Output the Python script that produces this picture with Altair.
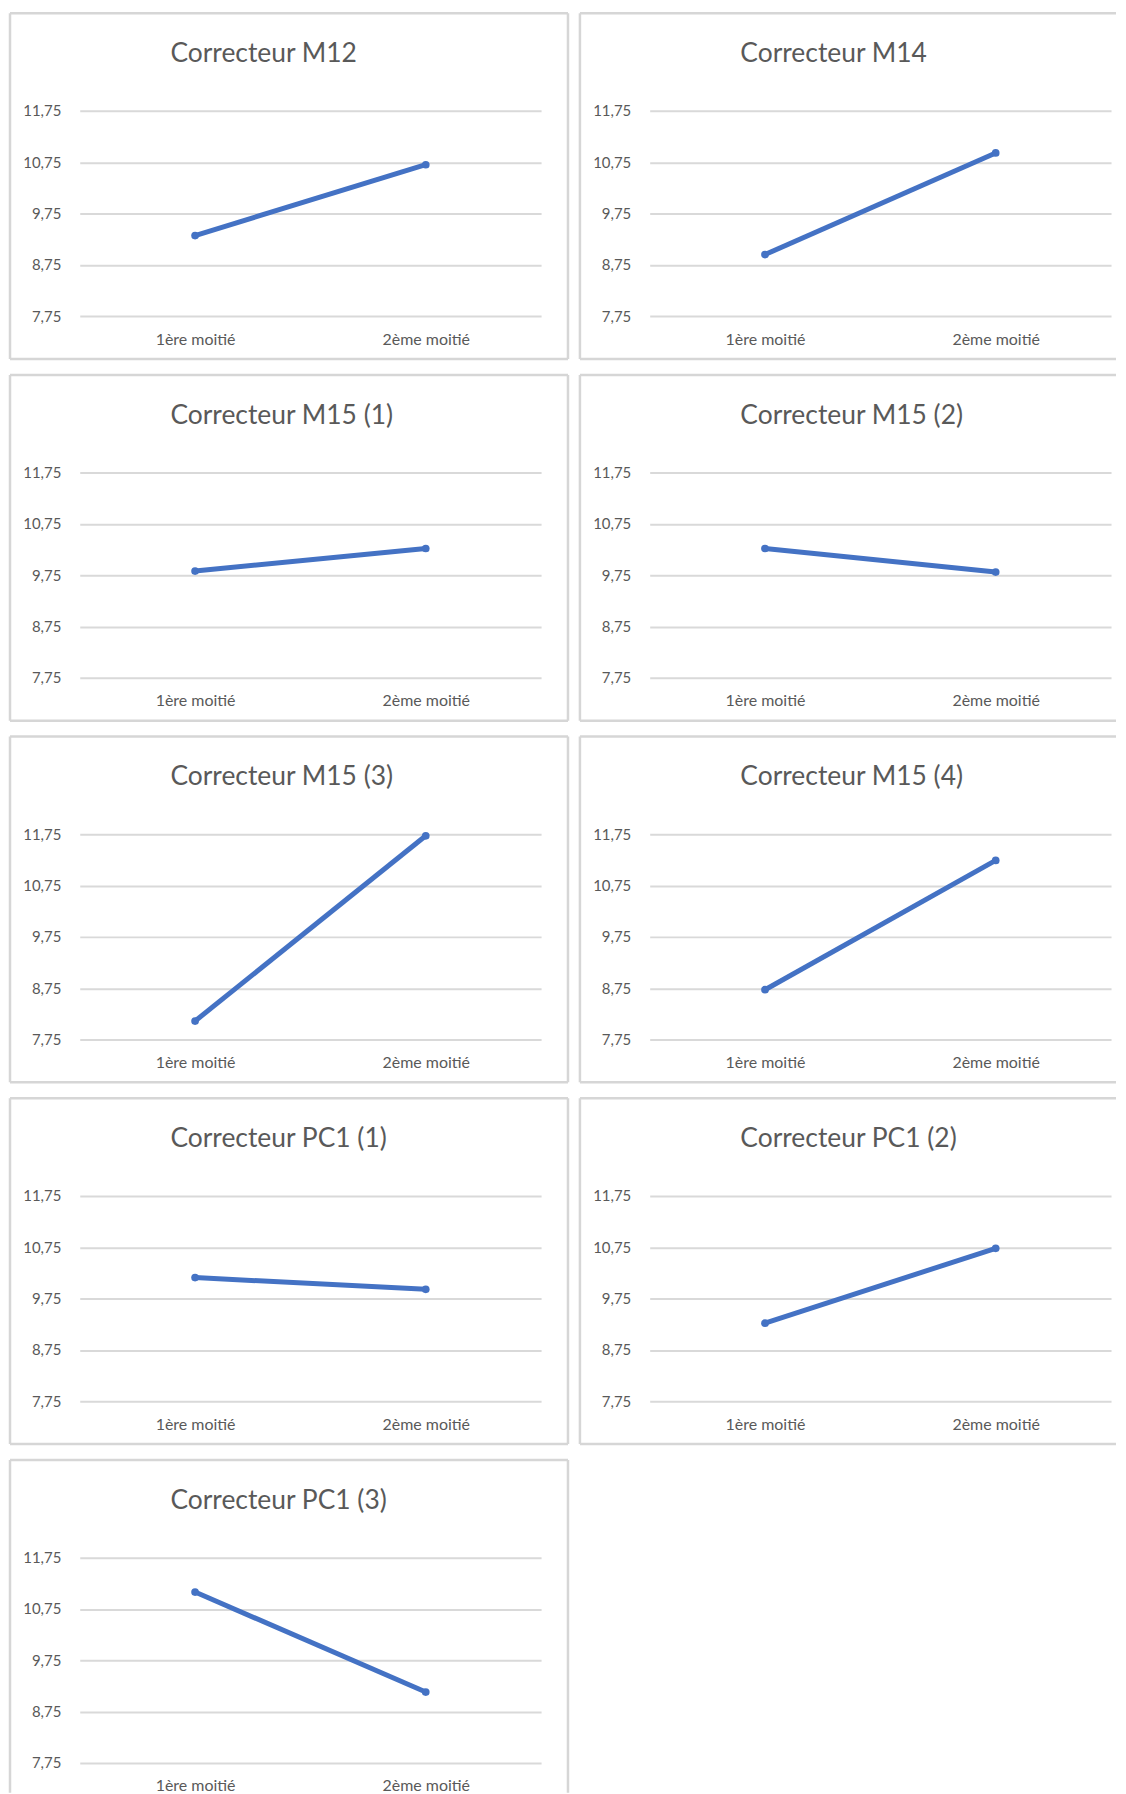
import altair as alt
import pandas as pd

# ---- data ----
titles = [
    "Correcteur M12", "Correcteur M14",
    "Correcteur M15 (1)", "Correcteur M15 (2)",
    "Correcteur M15 (3)", "Correcteur M15 (4)",
    "Correcteur PC1 (1)", "Correcteur PC1 (2)",
    "Correcteur PC1 (3)",
]
halves = ["1ère moitié", "2ème moitié"]
first_half = [9.32, 8.95, 9.83, 10.27, 8.11, 8.72, 10.16, 9.27, 11.08]
second_half = [10.70, 10.93, 10.27, 9.81, 11.72, 11.24, 9.93, 10.73, 9.13]
y_ticks = [7.75, 8.75, 9.75, 10.75, 11.75]

# ---- styling ----
W, H = 463, 206
TOP, BOTTOM, LEFT = -98, H + 43, -70
LINE_COLOR = "#4472C4"
TEXT_COLOR = "#595959"
GRID_COLOR = "#d9d9d9"
BORDER_COLOR = "#d6d6d6"
BW = 2.5
FONT = "Lato"


def panel(i, right=W + 27, show_right=True, show_bottom=True):
    df = pd.DataFrame({"moitie": halves, "note": [first_half[i], second_half[i]]})
    x = alt.X(
        "moitie:N", sort=halves, title=None,
        scale=alt.Scale(type="point", padding=0.5),
        axis=alt.Axis(domain=False, ticks=False, tickSize=0, labelPadding=15,
                      labelFontSize=16, labelColor=TEXT_COLOR, labelFont=FONT,
                      labelAngle=0, grid=False),
    )
    y = alt.Y(
        "note:Q", title=None,
        scale=alt.Scale(domain=[7.75, 11.75], nice=False, zero=False),
        axis=alt.Axis(values=y_ticks,
                      labelExpr="replace(format(datum.value, '.2f'), '.', ',')",
                      domain=False, ticks=False, tickSize=0, labelPadding=19,
                      labelFontSize=15, labelColor=TEXT_COLOR, labelFont=FONT,
                      grid=True, gridColor=GRID_COLOR, gridWidth=2),
    )
    tdf = pd.DataFrame({"t": [titles[i]]})
    bottom = BOTTOM if show_bottom else H + 30
    layers = []

    def hrule(yv):
        return alt.Chart(tdf).mark_rule(color=BORDER_COLOR, strokeWidth=BW).encode(
            x=alt.value(LEFT), x2=alt.value(right), y=alt.value(yv))

    def vrule(xv):
        return alt.Chart(tdf).mark_rule(color=BORDER_COLOR, strokeWidth=BW).encode(
            x=alt.value(xv), y=alt.value(TOP), y2=alt.value(bottom))

    layers += [hrule(TOP), vrule(LEFT)]
    if show_bottom:
        layers.append(hrule(BOTTOM))
    if show_right:
        layers.append(vrule(right))

    title = alt.Chart(tdf).mark_text(
        align="left", baseline="alphabetic", font=FONT, fontSize=26.5, color=TEXT_COLOR
    ).encode(x=alt.value(91), y=alt.value(-49), text="t:N")
    line = alt.Chart(df).mark_line(color=LINE_COLOR, strokeWidth=5).encode(x=x, y=y)
    pts = alt.Chart(df).mark_point(
        filled=True, size=60, color=LINE_COLOR, opacity=1
    ).encode(x=x, y=y)
    layers += [title, line, pts]
    return alt.layer(*layers).properties(width=W, height=H)


R_OPEN = W + 5  # right-column panels run to the page edge

rows = [
    alt.hconcat(panel(0), panel(1, right=R_OPEN, show_right=False), spacing=8),
    alt.hconcat(panel(2), panel(3, right=R_OPEN, show_right=False), spacing=8),
    alt.hconcat(panel(4), panel(5, right=R_OPEN, show_right=False), spacing=8),
    alt.hconcat(panel(6), panel(7, right=R_OPEN, show_right=False), spacing=8),
    alt.hconcat(panel(8, show_bottom=False), spacing=8),
]

chart = alt.vconcat(*rows, spacing=12).properties(
    padding=0, background="white"
).configure_view(stroke=None)

chart.save("out.html", embed_options={"renderer": "svg", "actions": False})
